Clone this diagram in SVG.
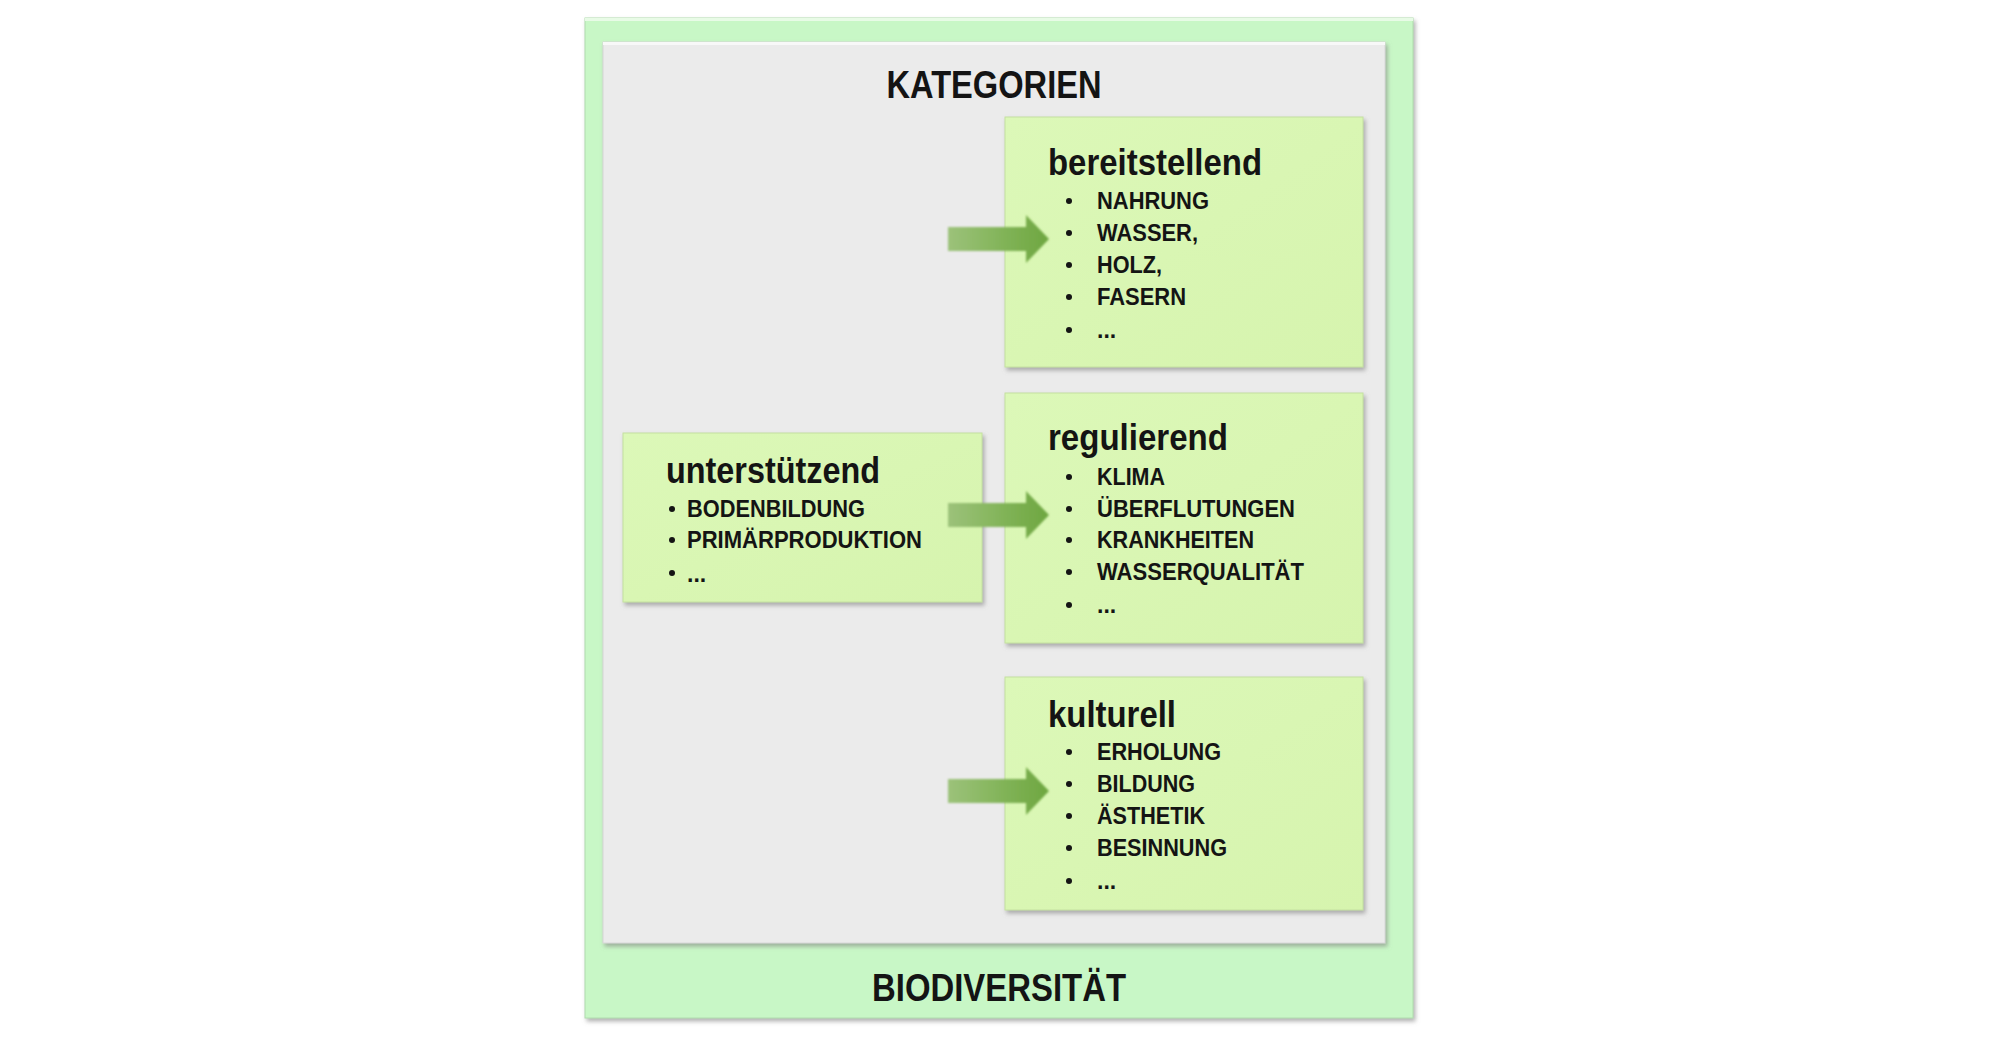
<svg xmlns="http://www.w3.org/2000/svg" width="2000" height="1044" viewBox="0 0 2000 1044">
<defs>
<style>
.t{font-family:"Liberation Sans",Arial,sans-serif;font-weight:bold;fill:#141414}
.h{font-size:37px}
.i{font-size:23px}
.big{font-size:38px}
.box{fill:url(#boxg);stroke:#c4e0a0;stroke-width:1}
.bul{fill:#141414}
</style>
<linearGradient id="boxg" x1="0" y1="0" x2="1" y2="1">
<stop offset="0" stop-color="#dcf8b8"/>
<stop offset="1" stop-color="#d6f4ae"/>
</linearGradient>
<linearGradient id="arrg" x1="0" y1="0" x2="1" y2="0">
<stop offset="0" stop-color="#9cc27a"/>
<stop offset="0.6" stop-color="#7fb255"/>
<stop offset="1" stop-color="#6ea640"/>
</linearGradient>
<filter id="sh" x="-5%" y="-5%" width="110%" height="115%">
<feDropShadow dx="2" dy="3" stdDeviation="2" flood-color="#808080" flood-opacity="0.6"/>
</filter>
<filter id="soft" x="-10%" y="-20%" width="120%" height="140%">
<feGaussianBlur stdDeviation="1.2"/>
</filter>
</defs>
<rect width="2000" height="1044" fill="#ffffff"/>
<g id="biodiversitaet">
<rect x="585" y="18" width="828" height="1000" fill="#c8f7c6" stroke="#b0dcae" stroke-width="1" filter="url(#sh)"/>
<rect x="585" y="18" width="828" height="3" fill="#e8fbe6"/>
<text class="t big" x="999" y="1001" text-anchor="middle" textLength="254" lengthAdjust="spacingAndGlyphs">BIODIVERSITÄT</text>
</g>
<g id="kategorien">
<rect x="603" y="42" width="782" height="901" fill="#ebebeb" stroke="#d6d6d6" stroke-width="1" filter="url(#sh)"/>
<rect x="603" y="42" width="782" height="3" fill="#f8f8f8"/>
<text class="t big" x="994" y="98" text-anchor="middle" textLength="215" lengthAdjust="spacingAndGlyphs">KATEGORIEN</text>
</g>
<g id="unterstuetzend">
<rect class="box" x="623" y="433" width="359" height="169" filter="url(#sh)"/>
<text class="t h" x="666" y="483" textLength="214" lengthAdjust="spacingAndGlyphs">unterstützend</text>
<circle class="bul" cx="672" cy="509" r="3"/>
<text class="t i" x="687" y="517" textLength="178" lengthAdjust="spacingAndGlyphs">BODENBILDUNG</text>
<circle class="bul" cx="672" cy="540" r="3"/>
<text class="t i" x="687" y="548" textLength="235" lengthAdjust="spacingAndGlyphs">PRIMÄRPRODUKTION</text>
<circle class="bul" cx="672" cy="573" r="3"/>
<text class="t i" x="687" y="582" font-size="16">...</text>
</g>
<g id="bereitstellend">
<rect class="box" x="1005" y="117" width="358" height="250" filter="url(#sh)"/>
<text class="t h" x="1048" y="175" textLength="214" lengthAdjust="spacingAndGlyphs">bereitstellend</text>
<circle class="bul" cx="1069" cy="201" r="3"/>
<text class="t i" x="1097" y="209" textLength="112" lengthAdjust="spacingAndGlyphs">NAHRUNG</text>
<circle class="bul" cx="1069" cy="233" r="3"/>
<text class="t i" x="1097" y="241" textLength="101" lengthAdjust="spacingAndGlyphs">WASSER,</text>
<circle class="bul" cx="1069" cy="265" r="3"/>
<text class="t i" x="1097" y="273" textLength="65" lengthAdjust="spacingAndGlyphs">HOLZ,</text>
<circle class="bul" cx="1069" cy="297" r="3"/>
<text class="t i" x="1097" y="305" textLength="89" lengthAdjust="spacingAndGlyphs">FASERN</text>
<circle class="bul" cx="1069" cy="330" r="3"/>
<text class="t i" x="1097" y="338" font-size="16">...</text>
</g>
<g id="regulierend">
<rect class="box" x="1005" y="393" width="358" height="250" filter="url(#sh)"/>
<text class="t h" x="1048" y="450" textLength="180" lengthAdjust="spacingAndGlyphs">regulierend</text>
<circle class="bul" cx="1069" cy="477" r="3"/>
<text class="t i" x="1097" y="485" textLength="68" lengthAdjust="spacingAndGlyphs">KLIMA</text>
<circle class="bul" cx="1069" cy="509" r="3"/>
<text class="t i" x="1097" y="517" textLength="198" lengthAdjust="spacingAndGlyphs">ÜBERFLUTUNGEN</text>
<circle class="bul" cx="1069" cy="540" r="3"/>
<text class="t i" x="1097" y="548" textLength="157" lengthAdjust="spacingAndGlyphs">KRANKHEITEN</text>
<circle class="bul" cx="1069" cy="572" r="3"/>
<text class="t i" x="1097" y="580" textLength="207" lengthAdjust="spacingAndGlyphs">WASSERQUALITÄT</text>
<circle class="bul" cx="1069" cy="605" r="3"/>
<text class="t i" x="1097" y="613" font-size="16">...</text>
</g>
<g id="kulturell">
<rect class="box" x="1005" y="677" width="358" height="233" filter="url(#sh)"/>
<text class="t h" x="1048" y="727" textLength="128" lengthAdjust="spacingAndGlyphs">kulturell</text>
<circle class="bul" cx="1069" cy="752" r="3"/>
<text class="t i" x="1097" y="760" textLength="124" lengthAdjust="spacingAndGlyphs">ERHOLUNG</text>
<circle class="bul" cx="1069" cy="784" r="3"/>
<text class="t i" x="1097" y="792" textLength="98" lengthAdjust="spacingAndGlyphs">BILDUNG</text>
<circle class="bul" cx="1069" cy="816" r="3"/>
<text class="t i" x="1097" y="824" textLength="108" lengthAdjust="spacingAndGlyphs">ÄSTHETIK</text>
<circle class="bul" cx="1069" cy="848" r="3"/>
<text class="t i" x="1097" y="856" textLength="130" lengthAdjust="spacingAndGlyphs">BESINNUNG</text>
<circle class="bul" cx="1069" cy="881" r="3"/>
<text class="t i" x="1097" y="889" font-size="16">...</text>
</g>
<g id="connectors" fill="url(#arrg)" filter="url(#soft)">
<path d="M948,227 L1026,227 L1026,215 L1049,239 L1026,263 L1026,251 L948,251 Z"/>
<path d="M948,503 L1026,503 L1026,491 L1049,515 L1026,539 L1026,527 L948,527 Z"/>
<path d="M948,779 L1026,779 L1026,767 L1049,791 L1026,815 L1026,803 L948,803 Z"/>
</g>
</svg>
